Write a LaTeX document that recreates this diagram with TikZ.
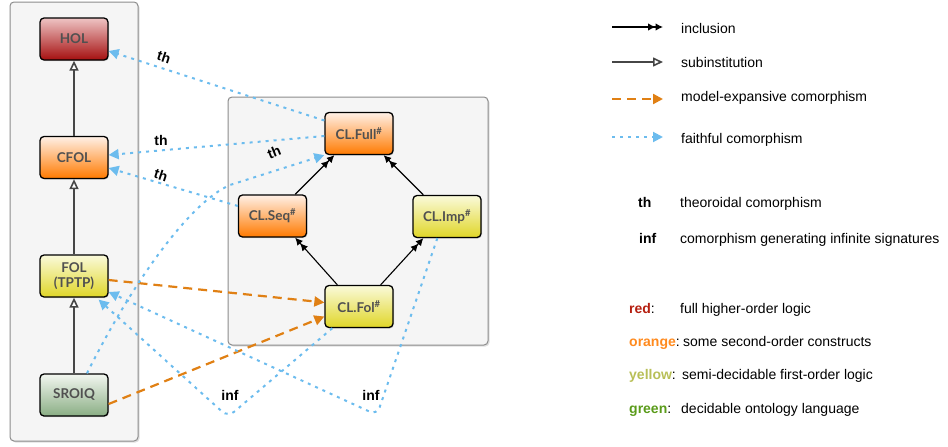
\documentclass[tikz,border=0pt]{standalone}
\usepackage{fontspec}
\setmainfont{Liberation Sans}
\newfontfamily\boxfont{Lato}
\usetikzlibrary{arrows.meta,shadows,calc}
\definecolor{faith}{RGB}{108,188,238}
\definecolor{modexp}{RGB}{224,128,20}
\definecolor{subgray}{RGB}{70,70,70}
\definecolor{labgray}{RGB}{80,80,80}
\definecolor{holtop}{RGB}{238,196,196}
\definecolor{holmid}{RGB}{205,105,105}
\definecolor{holbot}{RGB}{165,15,15}
\definecolor{ortop}{RGB}{255,240,230}
\definecolor{ormid}{RGB}{255,178,120}
\definecolor{orbot}{RGB}{255,122,0}
\definecolor{yetop}{RGB}{250,250,218}
\definecolor{yemid}{RGB}{240,236,150}
\definecolor{yebot}{RGB}{224,214,40}
\definecolor{grtop}{RGB}{242,246,240}
\definecolor{grmid}{RGB}{200,218,195}
\definecolor{grbot}{RGB}{138,174,132}
\definecolor{legred}{RGB}{181,31,16}
\definecolor{legorange}{RGB}{255,138,30}
\definecolor{legyellow}{RGB}{184,191,87}
\definecolor{leggreen}{RGB}{90,155,26}
\begin{document}
\begin{tikzpicture}[x=1pt,y=-1pt,
  panel/.style={draw=black!45, fill=black!4, rounded corners=4pt, line width=1pt,
    drop shadow={opacity=0.25,shadow xshift=1.5pt,shadow yshift=-1.5pt}},
  logic/.style={draw=black, line width=1.3pt, rounded corners=4pt,
    minimum width=68pt, minimum height=42pt, inner sep=0pt, align=center,
    font=\boxfont\bfseries\fontsize{13.5}{15.5}\selectfont, text=labgray,
    drop shadow={opacity=0.3,shadow xshift=1pt,shadow yshift=-1pt}},
  holbox/.style={logic, top color=holtop, middle color=holmid, bottom color=holbot},
  orbox/.style={logic, top color=ortop, middle color=ormid, bottom color=orbot},
  yebox/.style={logic, top color=yetop, middle color=yemid, bottom color=yebot},
  grbox/.style={logic, top color=grtop, middle color=grmid, bottom color=grbot},
  incl/.style={draw=black, line width=1.1pt,
    -{Latex[length=7.5pt,width=7.5pt]Latex[length=7.5pt,width=7.5pt]}},
  subinst/.style={draw=subgray, line width=2pt,
    -{Triangle[open,length=10pt,width=9pt,line width=1.6pt,fill=white]}},
  mexp/.style={draw=modexp, line width=2.2pt, dash pattern=on 9pt off 6pt,
    -{Triangle[length=10pt,width=10pt]}},
  faithful/.style={draw=faith, line width=2pt, dash pattern=on 3pt off 5pt,
    -{Triangle[length=10pt,width=10pt]}},
  lab/.style={font=\bfseries\fontsize{14}{16}\selectfont, inner sep=1pt},
  legtext/.style={font=\fontsize{14}{16}\selectfont, anchor=base west, inner sep=0pt}
]
\useasboundingbox (0,0) rectangle (948,447);

% panels
\path[panel] (10,2) rectangle (138,441);
\path[panel] (228,97) rectangle (488,345);

% logic nodes
\node[holbox] (hol) at (74,39) {HOL};
\node[orbox] (cfol) at (74,157.5) {CFOL};
\node[yebox] (fol) at (74,276) {FOL\\(TPTP)};
\node[grbox] (sroiq) at (74,395) {SROIQ};
\node[orbox] (full) at (359,133.5) {CL.Full\textsuperscript{\#}};
\node[orbox] (seq) at (272.5,216) {CL.Seq\textsuperscript{\#}};
\node[yebox] (imp) at (447,216.5) {CL.Imp\textsuperscript{\#}};
\node[yebox] (clfol) at (359,306.5) {CL.Fol\textsuperscript{\#}};

% subinstitutions
\draw[subinst] (sroiq.north) -- (fol.south);
\draw[subinst] (fol.north) -- (cfol.south);
\draw[subinst] (cfol.north) -- (hol.south);

% inclusions
\draw[incl] ([xshift=-12pt]seq.north east) -- ([xshift=10pt]full.south west);
\draw[incl] ([xshift=11pt]imp.north west) -- ([xshift=-10pt]full.south east);
\draw[incl] ([xshift=13pt]clfol.north west) -- ([xshift=-12pt]seq.south east);
\draw[incl] ([xshift=-13pt]clfol.north east) -- ([xshift=11pt]imp.south west);

% model-expansive comorphisms
\draw[mexp] ([yshift=-4pt]fol.east) -- ([yshift=4pt]clfol.west);
\draw[mexp] ([yshift=-9pt]sroiq.east) -- ([yshift=-10pt]clfol.west);

% faithful comorphisms
\draw[faithful] ([yshift=13pt]full.west) -- ([yshift=-12pt]hol.east);
\draw[faithful] ([yshift=-2.5pt]full.west) -- ([yshift=2.5pt]cfol.east);
\draw[faithful] ([yshift=10pt]seq.west) -- ([yshift=-10.5pt]cfol.east);
\draw[faithful] ([xshift=13pt]sroiq.north) .. controls (132,283) and (190,202) .. (230,185) -- (full.south west);
\draw[faithful, rounded corners=8pt] ([xshift=8pt]clfol.south west) -- (228,417) -- ([xshift=-10pt,yshift=-2pt]fol.south east);
\draw[faithful, rounded corners=8pt] ([xshift=25pt]imp.south west) -- (377,415) -- ([yshift=-16pt]fol.east);

% labels
\node[lab, rotate=-18] (th1) at (164,57) {th};
\node[lab] (th2) at (161,140) {th};
\node[lab, rotate=-18] (th3) at (161,175) {th};
\node[lab, rotate=22] (th4) at (274,152) {th};
\node[lab] (inf1) at (230,395) {inf};
\node[lab] (inf2) at (371,395) {inf};

% legend
\coordinate (la1) at (612,27); \coordinate (lb1) at (663,27);
\coordinate (la2) at (612,62); \coordinate (lb2) at (663,62);
\coordinate (la3) at (612,99); \coordinate (lb3) at (663,99);
\coordinate (la4) at (612,137); \coordinate (lb4) at (663,137);
\draw[incl] (la1) -- (lb1);
\draw[subinst] (la2) -- (lb2);
\draw[mexp] (la3) -- (lb3);
\draw[faithful] (la4) -- (lb4);
\node[legtext] (lt1) at (681,33) {inclusion};
\node[legtext] (lt2) at (681,67) {subinstitution};
\node[legtext] (lt3) at (681,101) {model-expansive comorphism};
\node[legtext] (lt4) at (681,143) {faithful comorphism};
\node[legtext, font=\bfseries\fontsize{14}{16}\selectfont] (lk5) at (638,207) {th};
\node[legtext] (lt5) at (680,207) {theoroidal comorphism};
\node[legtext, font=\bfseries\fontsize{14}{16}\selectfont] (lk6) at (639,243) {inf};
\node[legtext] (lt6) at (680,243) {comorphism generating infinite signatures};
\node[legtext] (lk7) at (629,313) {\textcolor{legred}{\bfseries red}:};
\node[legtext] (lt7) at (680,313) {full higher-order logic};
\node[legtext] (lk8) at (629,346) {\textcolor{legorange}{\bfseries orange}:};
\node[legtext] (lt8) at (683,346) {some second-order constructs};
\node[legtext] (lk9) at (629,379) {\textcolor{legyellow}{\bfseries yellow}:};
\node[legtext] (lt9) at (682,379) {semi-decidable first-order logic};
\node[legtext] (lk10) at (629,413) {\textcolor{leggreen}{\bfseries green}:};
\node[legtext] (lt10) at (681,413) {decidable ontology language};
\end{tikzpicture}
\end{document}
